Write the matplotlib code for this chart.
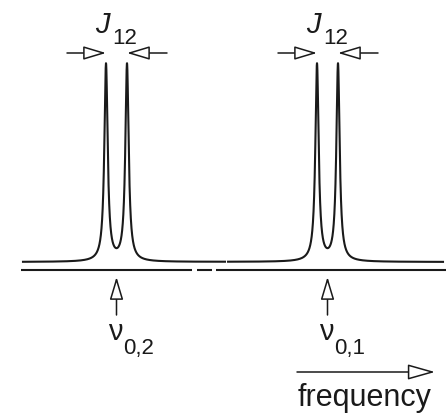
"""
Schematic NMR spectrum of a weakly coupled two-spin system: two doublets
split by J12, centred on the chemical shifts nu_0,2 and nu_0,1.
"""

import numpy as np
import matplotlib.pyplot as plt

plt.rcParams["font.family"] = ["Liberation Sans", "DejaVu Sans"]

# data (drawing units = pixels of the original figure, y downwards)
doublet_centres = [116.5, 327.5]
centre_labels = ["0,2", "0,1"]
peak_split = 21.0          # J12
peak_halfwidth = 2.0       # Lorentzian half width
peak_height = 197.0
baseline_y = 262.0
spectrum_range = (23.0, 443.0)
spectrum_gap = (225.0, 228.0)
axis_y = 269.5
axis_segments = [(21.0, 192.0), (197.0, 212.0), (216.0, 446.0)]

INK = "#1a1a1a"


def lorentz(x, x0, g):
    return g ** 2 / ((x - x0) ** 2 + g ** 2)


fig = plt.figure(figsize=(4.46, 4.15), dpi=100)
ax = fig.add_axes([0, 0, 1, 1])
ax.set_xlim(0, 446)
ax.set_ylim(415, 0)
ax.axis("off")

# spectrum trace
x = np.linspace(spectrum_range[0], spectrum_range[1], 6000)
signal = np.zeros_like(x)
for c in doublet_centres:
    for p in (c - peak_split / 2, c + peak_split / 2):
        signal += peak_height * lorentz(x, p, peak_halfwidth)
y = baseline_y - signal
y[(x > spectrum_gap[0]) & (x < spectrum_gap[1])] = np.nan
ax.plot(x, y, color=INK, lw=1.5, solid_joinstyle="round")

# frequency axis with break
for x0, x1 in axis_segments:
    ax.plot([x0, x1], [axis_y, axis_y], color=INK, lw=1.5, solid_capstyle="butt")


def open_arrow(tail, tip, hl=1.4, hw=0.42):
    ax.annotate(
        "", xy=tip, xytext=tail,
        arrowprops=dict(
            arrowstyle=f"-|>,head_length={hl},head_width={hw}",
            fc="white", ec=INK, lw=1.1, shrinkA=0, shrinkB=0,
            mutation_scale=10,
        ),
    )


for c, lab in zip(doublet_centres, centre_labels):
    left = c - peak_split / 2
    right = c + peak_split / 2
    # J12 arrows pointing at the two lines
    open_arrow((left - 39, 53), (left, 53))
    open_arrow((right + 40, 53), (right, 53))
    ax.text(c - 21, 33, "J", fontsize=21, style="italic", ha="left",
            va="baseline", color=INK)
    ax.text(c - 4.5, 43.5, "12", fontsize=16, ha="left", va="baseline",
            color=INK)
    # chemical shift arrow and label
    open_arrow((c, 315), (c, 277))
    ax.text(c - 8.5, 340, "\u03bd", fontsize=21, ha="left", va="baseline",
            color=INK)
    ax.text(c + 7, 353.5, lab, fontsize=16, ha="left", va="baseline",
            color=INK)

# frequency direction arrow
open_arrow((297, 372), (435, 372), hl=1.7, hw=0.48)
ax.text(365, 405.5, "frequency", fontsize=22, ha="center", va="baseline",
        color=INK)

fig.savefig("out.png", dpi=100)
